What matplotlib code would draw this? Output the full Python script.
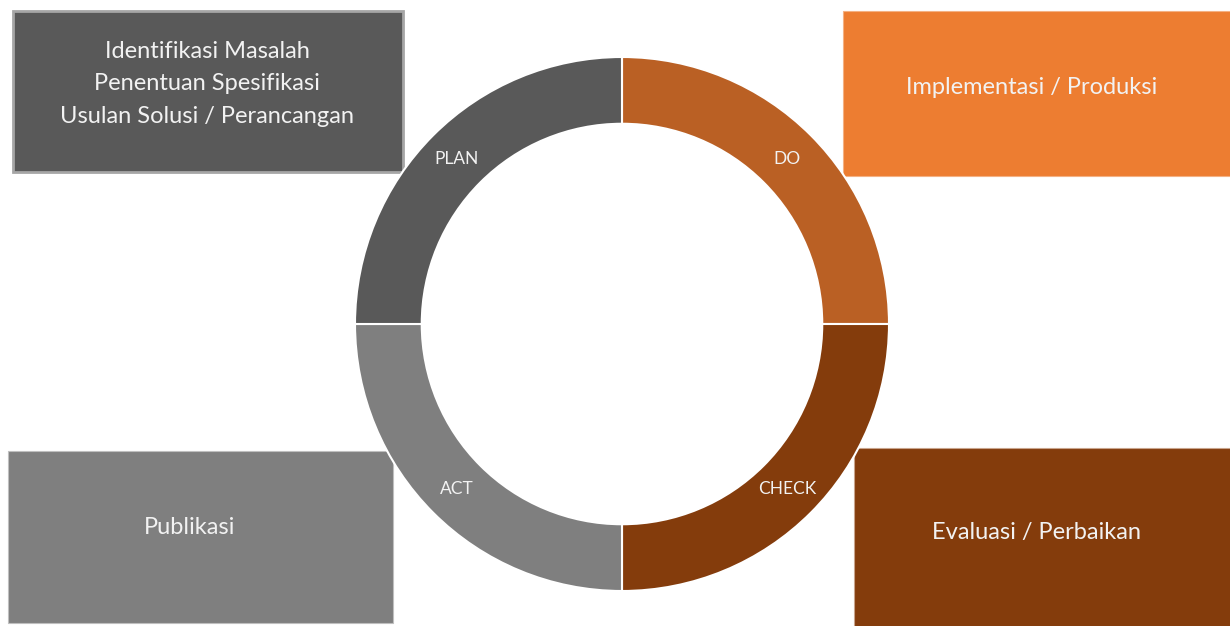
import matplotlib
matplotlib.use("Agg")
import numpy as np
import matplotlib.pyplot as plt
from matplotlib.patches import Rectangle

plt.rcParams['font.family'] = ['Lato', 'DejaVu Sans']

# PDCA cycle, clockwise from the top
stages = ["DO", "CHECK", "ACT", "PLAN"]
shares = [1, 1, 1, 1]
stage_colors = ["#BA6024", "#843C0C", "#7F7F7F", "#595959"]

box_texts = {
    "PLAN": "Identifikasi Masalah\nPenentuan Spesifikasi\nUsulan Solusi / Perancangan",
    "DO": "Implementasi / Produksi",
    "CHECK": "Evaluasi / Perbaikan",
    "ACT": "Publikasi",
}
box_colors = {
    "PLAN": "#595959",
    "DO": "#ED7D31",
    "CHECK": "#843C0C",
    "ACT": "#7F7F7F",
}
box_edges = {
    "PLAN": "#A6A6A6",
    "DO": "#F4B183",
    "CHECK": "#C9A48C",
    "ACT": "#BFBFBF",
}

W, H = 1230, 626
fig = plt.figure(figsize=(W / 100, H / 100), dpi=100)
fig.patch.set_facecolor("white")

# background axes in pixel coordinates for the text boxes
bg = fig.add_axes([0, 0, 1, 1])
bg.set_xlim(0, W)
bg.set_ylim(H, 0)
bg.axis("off")

# (x, y, w, h, edge width) of each box
box_layout = {
    "PLAN": (13, 11, 390, 161, 2.0),
    "DO": (843, 11, 390, 165, 0.8),
    "ACT": (8, 451, 385, 172, 0.8),
    "CHECK": (854, 448, 380, 182, 0.8),
}
for key, (x, y, w, h, lw) in box_layout.items():
    bg.add_patch(Rectangle((x, y), w, h, facecolor=box_colors[key],
                           edgecolor=box_edges[key], linewidth=lw))

text_pos = {
    "PLAN": (207, 84),
    "DO": (1032, 88),
    "ACT": (190, 527),
    "CHECK": (1036, 532),
}
for key, (x, y) in text_pos.items():
    bg.text(x, y, box_texts[key], ha="center", va="center", color="#F2F2F2",
            fontsize=17, linespacing=1.7)

# donut in its own square axes
cx, cy, r = 622, 324, 267
ax = fig.add_axes([(cx - r) / W, (H - cy - r) / H, 2 * r / W, 2 * r / H])
wedges, _ = ax.pie(shares, colors=stage_colors, startangle=90, counterclock=False,
                   radius=1.0, wedgeprops=dict(width=0.25, edgecolor="white", linewidth=1.5))
ax.set_xlim(-1, 1)
ax.set_ylim(-1, 1)
ax.set_aspect("equal")
ax.axis("off")

for wdg, name in zip(wedges, stages):
    mid = np.deg2rad((wdg.theta1 + wdg.theta2) / 2)
    rr = 0.875
    ax.text(rr * np.cos(mid), rr * np.sin(mid), name, ha="center", va="center",
            color="#F2F2F2", fontsize=12.5)

fig.savefig("out.png", dpi=100)
